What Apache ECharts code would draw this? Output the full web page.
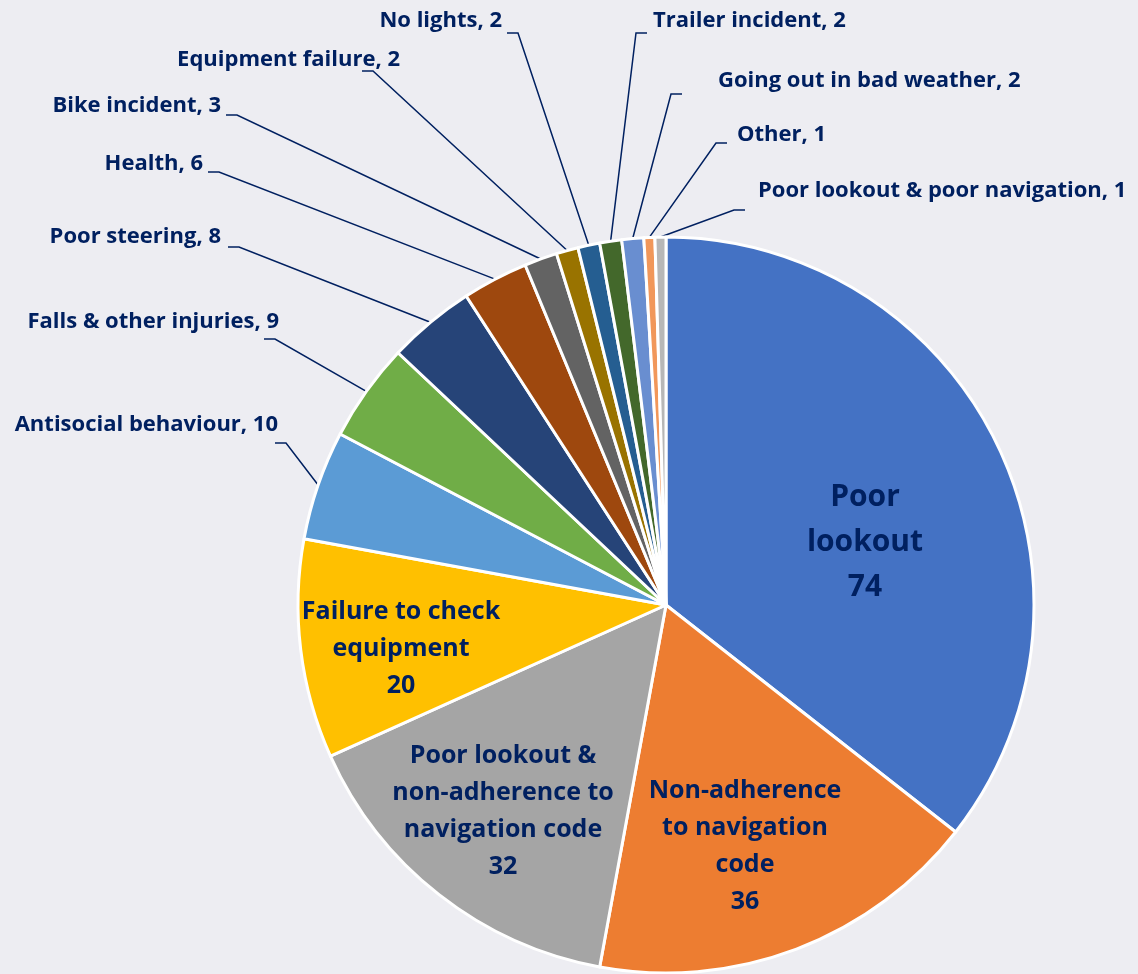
<!DOCTYPE html>
<html>
<head>
<meta charset="utf-8">
<title>Incident causes</title>
<style>
  html, body { margin: 0; padding: 0; background: #EDEDF2; }
  #main { width: 1138px; height: 974px; }
</style>
</head>
<body>
<div id="main"></div>
<script src="https://cdn.jsdelivr.net/npm/echarts@6/dist/echarts.min.js"></script>
<script>
// slices, clockwise from 12 o'clock
const categories = [
  'Poor lookout', 'Non-adherence to navigation code',
  'Poor lookout & non-adherence to navigation code', 'Failure to check equipment',
  'Antisocial behaviour', 'Falls & other injuries', 'Poor steering', 'Health',
  'Bike incident', 'Equipment failure', 'No lights', 'Trailer incident',
  'Going out in bad weather', 'Other', 'Poor lookout & poor navigation'
];
const counts = [74, 36, 32, 20, 10, 9, 8, 6, 3, 2, 2, 2, 2, 1, 1];

// office palette
const colors = ['#4472C4', '#ED7D31', '#A5A5A5', '#FFC000', '#5B9BD5', '#70AD47', '#264478',
  '#9E480E', '#636363', '#997300', '#255E91', '#43682B', '#698ED0', '#F1975A', '#B7B7B7'];

// the 4 big ones are labelled inside, wrapped like the original
const insideText = ['Poor\nlookout', 'Non-adherence\nto navigation\ncode',
  'Poor lookout &\nnon-adherence to\nnavigation code', 'Failure to check\nequipment'];

// label spots: [x, y, align] ; leader elbow: [x, y]
const labelSpots = [
  [865, 542, 'center'], [745, 846, 'center'], [503, 811, 'center'], [401, 649, 'center'],
  [278, 425, 'right'], [279, 322, 'right'], [221, 237, 'right'], [203, 164, 'right'],
  [221, 106, 'right'], [400, 60, 'right'], [502, 21, 'right'],
  [653, 21, 'left'], [718, 81, 'left'], [737, 135, 'left'], [758, 191, 'left']
];
const elbows = [
  null, null, null, null,
  [286, 443], [275, 339], [239, 247], [219, 172], [237, 115], [373, 71], [518, 33],
  [636, 33], [671, 94], [716, 143], [734, 210]
];

const textColor = '#002060';

const data = categories.map(function (name, i) {
  const item = { name: name, value: counts[i], itemStyle: { color: colors[i] } };
  if (i < insideText.length) {
    item.label = {
      position: 'inside',
      formatter: insideText[i] + '\n' + counts[i],
      fontSize: i === 0 ? 30 : 25,
      lineHeight: i === 0 ? 45 : 37
    };
    item.labelLine = { show: false };
  }
  return item;
});

var myChart = echarts.init(document.getElementById('main'));
var option = {
  backgroundColor: '#EDEDF2',
  animation: false,
  series: [{
    type: 'pie',
    center: [666, 605],
    radius: 368,
    startAngle: 90,
    clockwise: true,
    avoidLabelOverlap: false,
    emphasis: { disabled: true },
    itemStyle: { borderColor: '#ffffff', borderWidth: 3 },
    label: {
      show: true,
      position: 'outside',
      formatter: '{b}, {c}',
      color: textColor,
      fontFamily: 'Open Sans',
      fontWeight: 'bold',
      fontSize: 22
    },
    labelLine: {
      show: true,
      length: 20,
      length2: 10,
      lineStyle: { color: textColor, width: 1.5 }
    },
    labelLayout: function (p) {
      const spot = labelSpots[p.dataIndex];
      const res = { x: spot[0], y: spot[1], align: spot[2], verticalAlign: 'middle' };
      const elbow = elbows[p.dataIndex];
      if (elbow && p.labelLinePoints) {
        const start = p.labelLinePoints[0];
        const dir = spot[2] === 'right' ? -1 : 1;
        res.labelLinePoints = [start, elbow, [elbow[0] + dir * 11, elbow[1]]];
      }
      return res;
    },
    data: data
  }]
};
myChart.setOption(option);
</script>
</body>
</html>
